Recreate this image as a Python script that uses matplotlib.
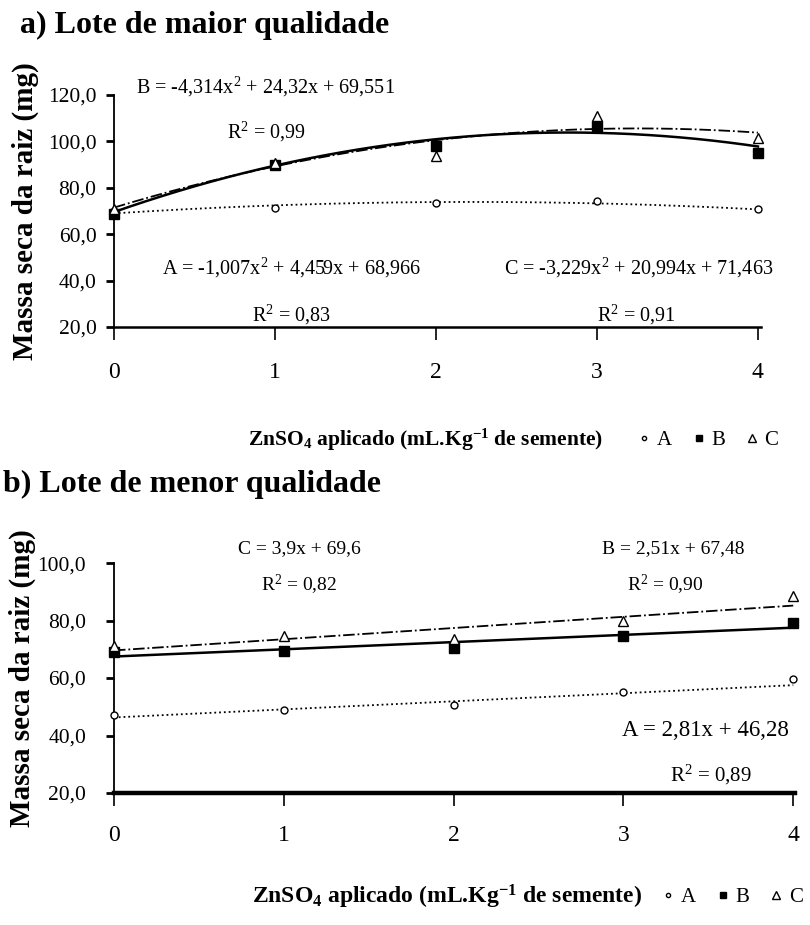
import numpy as np
import matplotlib
matplotlib.use("Agg")
import matplotlib.pyplot as plt
from matplotlib.lines import Line2D

matplotlib.rcParams.update({
    "font.family": ["Liberation Serif", "DejaVu Serif"],
    "font.size": 14,
    "mathtext.fontset": "custom",
    "mathtext.rm": "Liberation Serif",
    "mathtext.it": "Liberation Serif:italic",
    "mathtext.bf": "Liberation Serif:bold",
})

DOSES = [0, 1, 2, 3, 4]

# (a) higher-quality seed lot
A_HIGH = [70.0, 71.5, 73.5, 74.5, 71.0]
B_HIGH = [68.5, 90.0, 98.0, 106.5, 95.0]
C_HIGH = [71.0, 90.5, 93.5, 111.0, 101.5]
# quadratic fits: a2, a1, a0
FIT_A_HIGH = [-1.007, 4.459, 68.966]
FIT_B_HIGH = [-4.314, 24.32, 69.551]
FIT_C_HIGH = [-3.229, 20.994, 71.463]

# (b) lower-quality seed lot
A_LOW = [47.0, 49.0, 50.5, 55.0, 59.5]
B_LOW = [69.0, 69.5, 70.5, 74.5, 79.0]
C_LOW = [71.0, 74.5, 73.5, 80.0, 88.5]
# linear fits: a1, a0
FIT_A_LOW = [2.81, 46.28]
FIT_B_LOW = [2.51, 67.48]
FIT_C_LOW = [3.9, 69.6]

YTICKS_HIGH = [20, 40, 60, 80, 100, 120]
YTICKS_LOW = [20, 40, 60, 80, 100]

STYLE = {
    "A": dict(ls=":", marker="o", mfc="white", ms=5, lw=1.3),
    "B": dict(ls="-", marker="s", mfc="black", ms=7, lw=1.8),
    "C": dict(ls="-.", marker="^", mfc="white", ms=7.5, lw=1.3),
}

XLABEL = r"ZnSO$_\mathbf{4}$ aplicado (mL.Kg$^{\mathbf{-1}}$ de semente)"
YLABEL = "Massa seca da raiz (mg)"


def fmt_comma(v):
    return f"{v:.1f}".replace(".", ",")


def draw_panel(ax, series, fits, yticks, bottom_lw, ypad, xpad):
    xs = np.linspace(0, 4, 200)
    for name, vals, coef in zip("ABC", series, fits):
        st = STYLE[name]
        ax.plot(xs, np.polyval(coef, xs), ls=st["ls"], color="black",
                lw=st["lw"], clip_on=False, zorder=2)
        ax.plot(DOSES, vals, ls="none", marker=st["marker"], mfc=st["mfc"],
                mec="black", ms=st["ms"], mew=1.0, clip_on=False, zorder=3)
    ax.set_ylim(yticks[0], yticks[-1])
    ax.set_yticks(yticks)
    ax.set_yticklabels([fmt_comma(v) for v in yticks], fontsize=15.5)
    ax.set_xticks(DOSES)
    ax.set_xticklabels([str(d) for d in DOSES], fontsize=17)
    ax.tick_params(axis="x", direction="out", length=9, width=1.2, pad=xpad)
    ax.tick_params(axis="y", direction="out", length=6, width=2.0, pad=ypad)
    ax.spines["top"].set_visible(False)
    ax.spines["right"].set_visible(False)
    ax.spines["left"].set_linewidth(1.3)
    ax.spines["bottom"].set_linewidth(bottom_lw)


fig = plt.figure(figsize=(8.1, 9.25), dpi=100)

# (a)
ax1 = fig.add_axes([0.1407, 0.6465, 0.799, 0.2508])
ax1.set_xlim(0, 4.02)
draw_panel(ax1, [A_HIGH, B_HIGH, C_HIGH],
           [FIT_A_HIGH, FIT_B_HIGH, FIT_C_HIGH], YTICKS_HIGH, 1.8, 6.5, 16)
ax1.set_ylabel(YLABEL, fontsize=21, fontweight="bold", va="center")
ax1.yaxis.set_label_coords(-0.137, 0.5)

ax1.text(0.137, 123.4, r"B = -4,314x$^2$ + 24,32x + 69,551", fontsize=14.5,
         va="center", clip_on=False)
ax1.text(0.70, 104.0, r"R$^2$ = 0,99", fontsize=14.5, va="center")
ax1.text(0.30, 45.4, r"A = -1,007x$^2$ + 4,459x + 68,966", fontsize=14.5,
         va="center")
ax1.text(2.42, 45.4, r"C = -3,229x$^2$ + 20,994x + 71,463", fontsize=14.5,
         va="center", clip_on=False)
ax1.text(0.857, 25.2, r"R$^2$ = 0,83", fontsize=14.5, va="center")
ax1.text(3.0, 25.2, r"R$^2$ = 0,91", fontsize=14.5, va="center")

# (b)
ax2 = fig.add_axes([0.1407, 0.1427, 0.8407, 0.2486])
ax2.set_xlim(0, 4.01)
draw_panel(ax2, [A_LOW, B_LOW, C_LOW],
           [FIT_A_LOW, FIT_B_LOW, FIT_C_LOW], YTICKS_LOW, 3.2, 14, 14)
ax2.set_ylabel(YLABEL, fontsize=21, fontweight="bold", va="center")
ax2.yaxis.set_label_coords(-0.134, 0.5)

ax2.text(0.73, 105.2, "C = 3,9x + 69,6", fontsize=14, va="center",
         clip_on=False)
ax2.text(0.866, 92.3, r"R$^2$ = 0,82", fontsize=14, va="center")
ax2.text(2.875, 105.2, "B = 2,51x + 67,48", fontsize=14, va="center",
         clip_on=False)
ax2.text(3.02, 92.3, r"R$^2$ = 0,90", fontsize=14, va="center")
ax2.text(2.99, 41.9, "A = 2,81x + 46,28", fontsize=16.5, va="center")
ax2.text(3.275, 26.3, r"R$^2$ = 0,89", fontsize=15, va="center")

# panel titles
fig.text(0.025, 0.973, "a) Lote de maior qualidade", fontsize=23,
         fontweight="bold", va="center")
fig.text(0.004, 0.476, "b) Lote de menor qualidade", fontsize=23,
         fontweight="bold", va="center")

# x labels with marker keys
handles = [Line2D([], [], ls="none", marker=STYLE[n]["marker"],
                  mfc=STYLE[n]["mfc"], mec="black", ms=STYLE[n]["ms"] - 2)
           for n in "ABC"]
for xlab, ylab, lab_fs, xleg in [(0.525, 0.524, 15.5, 0.782),
                                 (0.552, 0.030, 17.0, 0.812)]:
    fig.text(xlab, ylab, XLABEL, fontsize=lab_fs, fontweight="bold",
             ha="center", va="center")
    fig.legend(handles, ["A", "B", "C"], loc="center left",
               bbox_to_anchor=(xleg, ylab), ncol=3, frameon=False,
               fontsize=15, handletextpad=0.1, columnspacing=0.8,
               handlelength=1.0, borderpad=0.0, borderaxespad=0.0)

fig.savefig("out.png", dpi=100, facecolor="white")
